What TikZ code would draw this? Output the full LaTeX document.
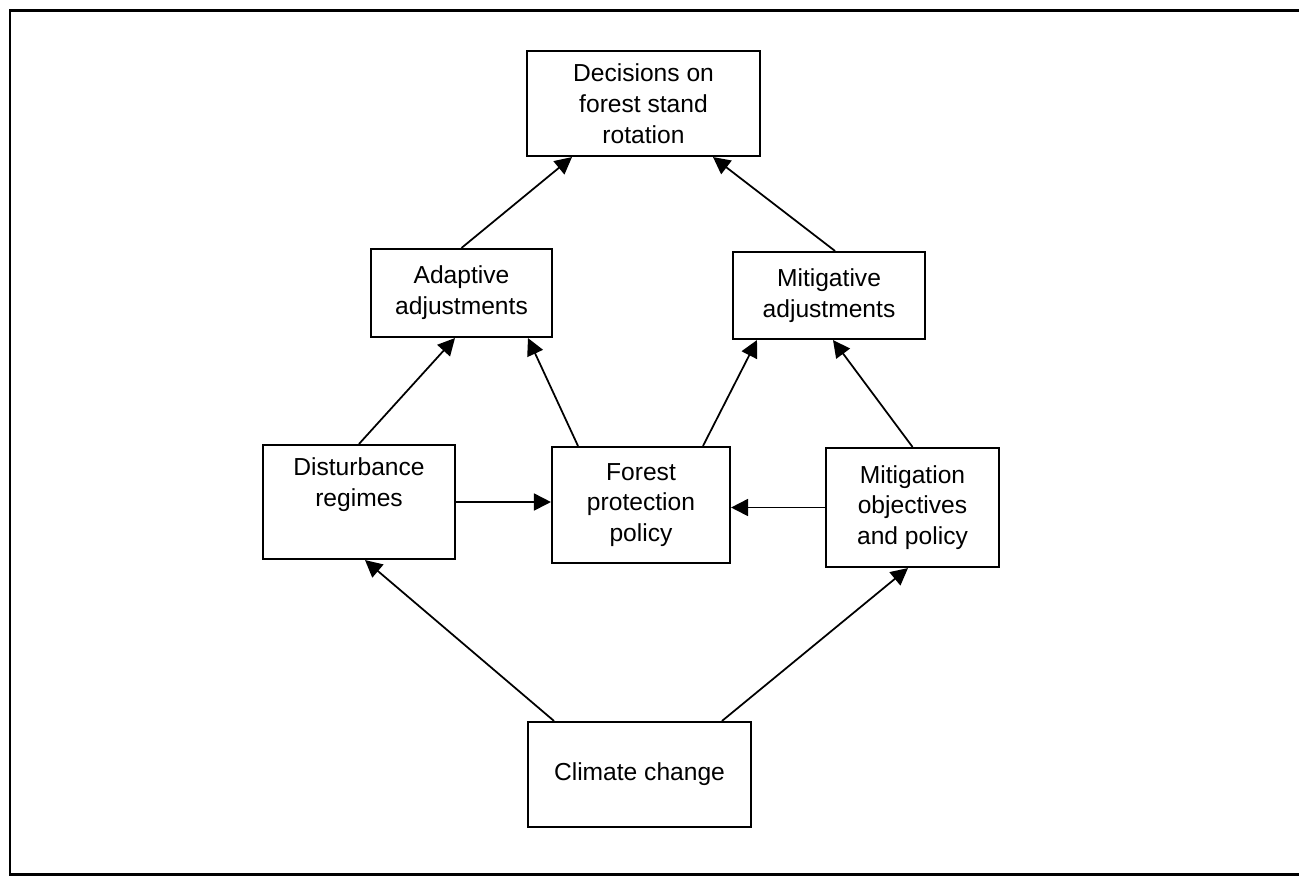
\documentclass[tikz,border=0pt]{standalone}
\usepackage{fontspec}
\setmainfont{Liberation Sans}
\usetikzlibrary{arrows.meta,positioning,calc}

\begin{document}
\begin{tikzpicture}[
    box/.style={draw,line width=1.2pt,align=center,inner sep=2pt,font=\fontsize{14}{17.5}\selectfont},
    link/.style={-{Triangle[length=3.4mm,width=3.4mm]},line width=1pt}]
  \useasboundingbox (0,0) rectangle (25.98,-17.54);
  % outer frame (open on the right)
  \draw[line width=1.7pt] (25.98,-0.2) -- (0.2,-0.2) -- (0.2,-17.48) -- (25.98,-17.48);

  \node[box,minimum width=4.66cm,minimum height=2.1cm] (dec) at (12.87,-2.07)
    {Decisions on\\forest stand\\rotation};
  \node[box,minimum width=3.62cm,minimum height=1.76cm] (adapt) at (9.23,-5.86)
    {Adaptive\\adjustments};
  \node[box,minimum width=3.84cm,minimum height=1.74cm] (mitig) at (16.58,-5.91)
    {Mitigative\\adjustments};
  \node[box,minimum width=3.84cm,minimum height=2.28cm] (dist) at (7.18,-10.04)
    {Disturbance\\regimes\\\strut};
  \node[box,minimum width=3.56cm,minimum height=2.32cm] (prot) at (12.82,-10.10)
    {Forest\\protection\\policy};
  \node[box,minimum width=3.46cm,minimum height=2.38cm] (mobj) at (18.25,-10.15)
    {Mitigation\\objectives\\and policy};
  \node[box,minimum width=4.46cm,minimum height=2.1cm] (clim) at (12.79,-15.49)
    {Climate change};

  \draw[link] (adapt.north) -- ([xshift=-1.43cm]dec.south);
  \draw[link] ([xshift=0.12cm]mitig.north) -- ([xshift=1.39cm]dec.south);
  \draw[link] (dist.north) -- ([xshift=-0.13cm]adapt.south);
  \draw[link] ([xshift=-1.26cm]prot.north) -- ([xshift=1.33cm]adapt.south);
  \draw[link] ([xshift=1.24cm]prot.north) -- ([xshift=-1.44cm]mitig.south);
  \draw[link] (mobj.north) -- ([xshift=0.08cm]mitig.south);
  \draw[link] (dist.east) -- (dist.east -| prot.west);
  \draw[link] (mobj.west) -- (mobj.west -| prot.east);
  \draw[link] ([xshift=-1.71cm]clim.north) -- ([xshift=0.12cm]dist.south);
  \draw[link] ([xshift=1.65cm]clim.north) -- ([xshift=-0.09cm]mobj.south);
\end{tikzpicture}
\end{document}
